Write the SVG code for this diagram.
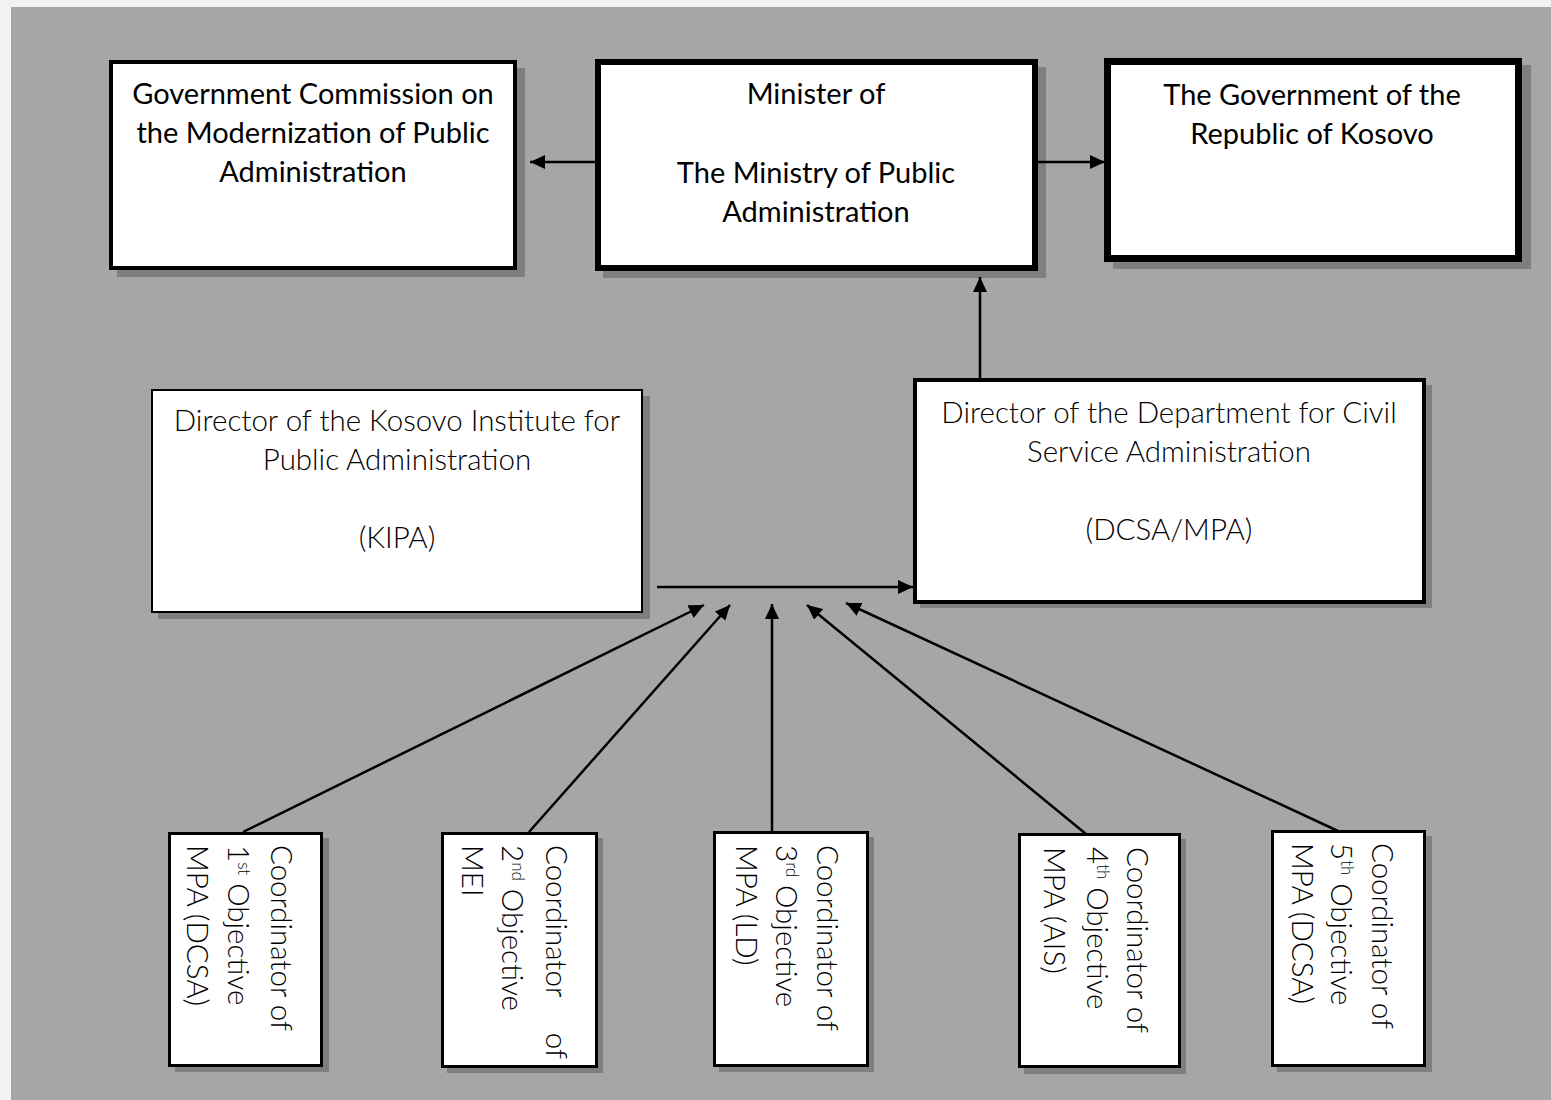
<svg xmlns="http://www.w3.org/2000/svg" width="1551" height="1100" viewBox="0 0 1551 1100">
<defs>
<style>
.bg{fill:#f2f2f2}
.panel{fill:#a6a6a6}
.sh{fill:#7f7f7f}
.box{fill:#ffffff;stroke:#000000}
.t{font-family:"Lato","Liberation Sans",sans-serif;font-size:29px;fill:#000;text-anchor:middle}
.tl{font-family:"Lato","Liberation Sans",sans-serif;font-weight:300;font-size:29.5px;fill:#000;text-anchor:middle}
.tr{font-family:"Lato","Liberation Sans",sans-serif;font-weight:300;font-size:29.5px;fill:#000}
.sup{font-size:17px}
.con{stroke:#000;stroke-width:2.5;fill:none;marker-end:url(#ah)}
</style>
<marker id="ah" markerUnits="userSpaceOnUse" markerWidth="16" markerHeight="14" refX="15" refY="7" orient="auto">
<path d="M0,0 L15,7 L0,14 Z" fill="#000"/>
</marker>
</defs>
<rect class="bg" x="0" y="0" width="1551" height="1100"/>
<rect class="panel" x="11" y="7" width="1540" height="1093"/>

<g id="commission">
<rect class="sh" x="117" y="68" width="408" height="209"/>
<rect class="box" x="111" y="62" width="404" height="206" stroke-width="4"/>
<text class="t" x="313" y="104">Government Commission on</text>
<text class="t" x="313" y="143">the Modernization of Public</text>
<text class="t" x="313" y="182">Administration</text>
</g>

<g id="minister">
<rect class="sh" x="603" y="67" width="443" height="211"/>
<rect class="box" x="598" y="62" width="437" height="206" stroke-width="6"/>
<text class="t" x="816" y="104">Minister of</text>
<text class="t" x="816" y="183">The Ministry of Public</text>
<text class="t" x="816" y="222">Administration</text>
</g>

<g id="government">
<rect class="sh" x="1113" y="65" width="418" height="204"/>
<rect class="box" x="1107.5" y="61.5" width="411" height="197" stroke-width="7"/>
<text class="t" x="1312" y="105">The Government of the</text>
<text class="t" x="1312" y="144">Republic of Kosovo</text>
</g>

<g id="kipa">
<rect class="sh" x="158" y="396" width="492" height="223"/>
<rect class="box" x="152" y="390" width="490" height="222" stroke-width="2"/>
<text class="tl" x="397" y="431">Director of the Kosovo Institute for</text>
<text class="tl" x="397" y="470">Public Administration</text>
<text class="tl" x="397" y="548">(KIPA)</text>
</g>

<g id="dcsa">
<rect class="sh" x="920" y="385" width="512" height="223"/>
<rect class="box" x="915" y="380" width="509" height="222" stroke-width="4"/>
<text class="tl" x="1169" y="423">Director of the Department for Civil</text>
<text class="tl" x="1169" y="462">Service Administration</text>
<text class="tl" x="1169" y="540">(DCSA/MPA)</text>
</g>

<g id="coord1">
<rect class="sh" x="175" y="838" width="154" height="234"/>
<rect class="box" x="169.5" y="833.5" width="152" height="232" stroke-width="3"/>
<text class="tr" transform="translate(271,845) rotate(90)">Coordinator of</text>
<text class="tr" transform="translate(228,845) rotate(90)">1<tspan class="sup" baseline-shift="super">st</tspan> Objective</text>
<text class="tr" transform="translate(187,845) rotate(90)">MPA (DCSA)</text>
</g>

<g id="coord2">
<rect class="sh" x="447" y="838" width="156" height="235"/>
<rect class="box" x="442.5" y="833.5" width="154" height="233" stroke-width="3"/>
<text class="tr" transform="translate(546,845) rotate(90)">Coordinator</text>
<text class="tr" transform="translate(546,1059) rotate(90)" text-anchor="end">of</text>
<text class="tr" transform="translate(502,845) rotate(90)">2<tspan class="sup" baseline-shift="super">nd</tspan> Objective</text>
<text class="tr" transform="translate(462,845) rotate(90)">MEI</text>
</g>

<g id="coord3">
<rect class="sh" x="719" y="837" width="155" height="235"/>
<rect class="box" x="714.5" y="832.5" width="153" height="233" stroke-width="3"/>
<text class="tr" transform="translate(817,845) rotate(90)">Coordinator of</text>
<text class="tr" transform="translate(776,845) rotate(90)">3<tspan class="sup" baseline-shift="super">rd</tspan> Objective</text>
<text class="tr" transform="translate(736,845) rotate(90)">MPA (LD)</text>
</g>

<g id="coord4">
<rect class="sh" x="1024" y="839" width="162" height="235"/>
<rect class="box" x="1019.5" y="834.5" width="160" height="232" stroke-width="3"/>
<text class="tr" transform="translate(1127,847) rotate(90)">Coordinator of</text>
<text class="tr" transform="translate(1087,847) rotate(90)">4<tspan class="sup" baseline-shift="super">th</tspan> Objective</text>
<text class="tr" transform="translate(1044,847) rotate(90)">MPA (AIS)</text>
</g>

<g id="coord5">
<rect class="sh" x="1277" y="836" width="155" height="236"/>
<rect class="box" x="1272.5" y="831.5" width="152" height="234" stroke-width="3"/>
<text class="tr" transform="translate(1372,843) rotate(90)">Coordinator of</text>
<text class="tr" transform="translate(1331,843) rotate(90)">5<tspan class="sup" baseline-shift="super">th</tspan> Objective</text>
<text class="tr" transform="translate(1292,843) rotate(90)">MPA (DCSA)</text>
</g>

<g id="connectors">
<line class="con" x1="596" y1="162" x2="530" y2="162"/>
<line class="con" x1="1038" y1="162" x2="1105" y2="162"/>
<line class="con" x1="980" y1="378" x2="980" y2="277"/>
<line class="con" x1="657" y1="587" x2="913" y2="587"/>
<line class="con" x1="243" y1="832" x2="704" y2="605"/>
<line class="con" x1="529" y1="832" x2="730" y2="605"/>
<line class="con" x1="772" y1="831" x2="772" y2="604"/>
<line class="con" x1="1086" y1="834" x2="807" y2="605"/>
<line class="con" x1="1338" y1="831" x2="846" y2="603"/>
</g>
</svg>
